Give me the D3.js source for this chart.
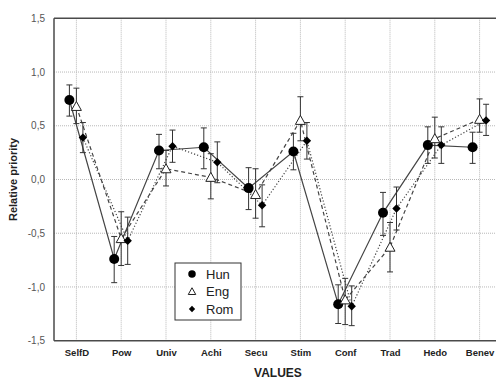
<!DOCTYPE html>
<html>
<head>
<meta charset="utf-8">
<script src="https://cdn.jsdelivr.net/npm/d3@7"></script>
<style>
  html, body { margin: 0; padding: 0; background: #fff; }
  svg { display: block; }
  text { font-family: Arial, "Liberation Sans", sans-serif; }
</style>
</head>
<body>
<svg id="chart" width="496" height="379"></svg>
<script>
const categories = ["SelfD", "Pow", "Univ", "Achi", "Secu", "Stim", "Conf", "Trad", "Hedo", "Benev"];
const yTicks = [-1.5, -1.0, -0.5, 0.0, 0.5, 1.0, 1.5];

const hunMean = [0.74, -0.74, 0.27, 0.30, -0.08, 0.26, -1.16, -0.31, 0.32, 0.30];
const hunLow  = [0.59, -0.96, 0.10, 0.10, -0.28, 0.09, -1.34, -0.52, 0.15, 0.15];
const hunHigh = [0.88, -0.53, 0.42, 0.48, 0.11, 0.43, -0.98, -0.12, 0.49, 0.44];

const engMean = [0.68, -0.55, 0.10, 0.02, -0.14, 0.55, -1.12, -0.63, 0.38, 0.56];
const engLow  = [0.52, -0.80, -0.06, -0.18, -0.36, 0.36, -1.35, -0.86, 0.20, 0.44];
const engHigh = [0.85, -0.30, 0.27, 0.24, 0.10, 0.77, -0.92, -0.40, 0.58, 0.75];

const romMean = [0.39, -0.57, 0.31, 0.16, -0.24, 0.36, -1.18, -0.27, 0.32, 0.55];
const romLow  = [0.25, -0.79, 0.16, -0.03, -0.44, 0.19, -1.36, -0.47, 0.15, 0.41];
const romHigh = [0.53, -0.35, 0.46, 0.35, -0.05, 0.53, -0.99, -0.07, 0.49, 0.70];

const seriesNames = ["Hun", "Eng", "Rom"];

(function () {
const series = [
  { name: seriesNames[0], mean: hunMean, low: hunLow, high: hunHigh, dx: -7, dash: null, marker: "circle" },
  { name: seriesNames[1], mean: engMean, low: engLow, high: engHigh, dx: 0, dash: "4,3", marker: "triangle" },
  { name: seriesNames[2], mean: romMean, low: romLow, high: romHigh, dx: 6.5, dash: "1.2,2", marker: "diamond" }
];

const svg = d3.select("#chart");
const pLeft = 54, pRight = 502, pTop = 18.3, pBottom = 340.7;

const x = d3.scalePoint().domain(categories).range([pLeft, pRight]).padding(0.5);
const y = d3.scaleLinear().domain([-1.5, 1.5]).range([pBottom, pTop]);

const fmt = v => d3.format(".1f")(v).replace(".", ",").replace("−", "-");

// grid
const grid = svg.append("g");
grid.selectAll("line.h").data(yTicks.filter(t => t > -1.5 && t < 1.5)).enter().append("line")
  .attr("x1", pLeft).attr("x2", pRight)
  .attr("y1", d => y(d)).attr("y2", d => y(d))
  .attr("stroke", "#b8b8b8").attr("stroke-width", 1).attr("stroke-dasharray", "1,1");
grid.selectAll("line.v").data(categories).enter().append("line")
  .attr("x1", d => x(d)).attr("x2", d => x(d))
  .attr("y1", pTop).attr("y2", pBottom)
  .attr("stroke", "#b8b8b8").attr("stroke-width", 1).attr("stroke-dasharray", "1,1");

// frame
svg.append("line").attr("x1", pLeft).attr("x2", pLeft).attr("y1", pTop).attr("y2", pBottom)
  .attr("stroke", "#4a4a4a").attr("stroke-width", 1.5);
svg.append("line").attr("x1", pLeft).attr("x2", pRight).attr("y1", pTop).attr("y2", pTop)
  .attr("stroke", "#4a4a4a").attr("stroke-width", 1.5);
svg.append("line").attr("x1", pLeft).attr("x2", pRight).attr("y1", pBottom).attr("y2", pBottom)
  .attr("stroke", "#4a4a4a").attr("stroke-width", 1.5);

// y axis
const yAxis = d3.axisLeft(y).tickValues(yTicks).tickFormat(fmt).tickSize(0).tickPadding(9);
const ya = svg.append("g").attr("transform", `translate(${pLeft},0)`).call(yAxis);
ya.select(".domain").remove();
ya.selectAll("text").attr("font-size", 10).attr("fill", "#555").attr("font-family", "Arial, 'Liberation Sans', sans-serif");

// x axis
const xAxis = d3.axisBottom(x).tickSize(0).tickPadding(9);
const xa = svg.append("g").attr("transform", `translate(0,${pBottom})`).call(xAxis);
xa.select(".domain").remove();
xa.selectAll("text").attr("font-size", 9.5).attr("font-weight", "bold").attr("fill", "#222")
  .attr("font-family", "Arial, 'Liberation Sans', sans-serif");

// axis titles
svg.append("text").attr("x", (pLeft + pRight) / 2).attr("y", 377)
  .attr("text-anchor", "middle").attr("font-size", 12).attr("font-weight", "bold").attr("fill", "#222")
  .text("VALUES");
svg.append("text").attr("transform", `translate(17,${(pTop + pBottom) / 2}) rotate(-90)`)
  .attr("text-anchor", "middle").attr("font-size", 11).attr("font-weight", "bold").attr("fill", "#222")
  .text("Relative priority");

// lines
series.forEach(s => {
  const line = d3.line().x((d, i) => x(categories[i]) + s.dx).y(d => y(d));
  svg.append("path").datum(s.mean).attr("d", line)
    .attr("fill", "none").attr("stroke", "#444").attr("stroke-width", 1.2)
    .attr("stroke-dasharray", s.dash);
});

// error bars
series.forEach(s => {
  const g = svg.append("g");
  categories.forEach((c, i) => {
    const cx = x(c) + s.dx;
    g.append("line").attr("x1", cx).attr("x2", cx).attr("y1", y(s.low[i])).attr("y2", y(s.high[i]))
      .attr("stroke", "#333").attr("stroke-width", 1);
    [s.low[i], s.high[i]].forEach(v => {
      g.append("line").attr("x1", cx - 3).attr("x2", cx + 3).attr("y1", y(v)).attr("y2", y(v))
        .attr("stroke", "#333").attr("stroke-width", 1);
    });
  });
});

function drawMarker(g, type, cx, cy, scale) {
  if (type === "circle") {
    g.append("circle").attr("cx", cx).attr("cy", cy).attr("r", 5 * scale).attr("fill", "#000");
  } else if (type === "triangle") {
    const r = 5 * scale;
    g.append("path").attr("d", `M${cx},${cy - r} L${cx + r},${cy + r * 0.8} L${cx - r},${cy + r * 0.8} Z`)
      .attr("fill", "#fff").attr("stroke", "#222").attr("stroke-width", 1);
  } else {
    const r = 4.2 * scale;
    g.append("path").attr("d", `M${cx},${cy - r} L${cx + r},${cy} L${cx},${cy + r} L${cx - r},${cy} Z`)
      .attr("fill", "#000");
  }
}

// markers
series.forEach(s => {
  const g = svg.append("g");
  categories.forEach((c, i) => drawMarker(g, s.marker, x(c) + s.dx, y(s.mean[i]), 1));
});

// legend
const lg = svg.append("g");
lg.append("rect").attr("x", 175).attr("y", 263).attr("width", 66).attr("height", 57)
  .attr("fill", "#fff").attr("stroke", "#333").attr("stroke-width", 1);
series.forEach((s, i) => {
  const cy = 274 + i * 17.5;
  drawMarker(lg, s.marker, 192, cy, 0.75);
  lg.append("text").attr("x", 206).attr("y", cy + 4.5).attr("font-size", 13).attr("fill", "#222").text(s.name);
});
})();
</script>
</body>
</html>
